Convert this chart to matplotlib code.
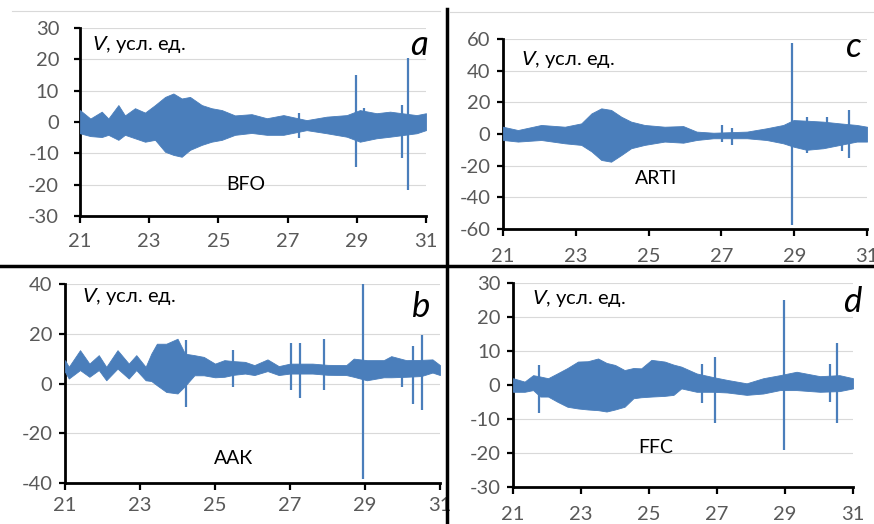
import numpy as np
import matplotlib
matplotlib.use("Agg")
import matplotlib.pyplot as plt
from matplotlib.lines import Line2D

plt.rcParams['font.family'] = ['Lato', 'DejaVu Sans']
plt.rcParams['axes.unicode_minus'] = False

blue = '#4a7ebb'
xticks = [21, 23, 25, 27, 29, 31]

# envelopes of the records (days, upper, lower)
a_t = [21.0, 21.3, 21.63, 21.82, 22.11, 22.3, 22.59, 22.88, 23.17, 23.46, 23.7, 23.94,
       24.18, 24.52, 24.8, 25.1, 25.48, 25.96, 26.4, 26.88, 27.55, 28.13, 28.71, 29.09,
       29.57, 29.96, 30.73, 31.0]
a_hi = [3.8, 1.1, 3.3, 1.1, 5.4, 2.1, 4.4, 3.0, 5.4, 8.0, 9.1, 7.5,
        8.0, 5.4, 4.4, 3.8, 2.1, 2.5, 1.2, 2.2, 0.6, 1.7, 2.2, 3.8,
        2.8, 3.3, 2.2, 2.8]
a_lo = [-3.6, -4.5, -4.8, -4.1, -5.7, -4.1, -5.2, -6.3, -5.7, -9.5, -10.5, -11.1,
        -8.9, -7.3, -6.3, -5.7, -4.1, -3.5, -4.1, -4.1, -2.6, -3.6, -4.7, -6.3,
        -5.2, -4.7, -3.6, -2.6]
a_spk_t = [27.33, 28.97, 29.2, 30.3, 30.47]
a_spk_lo = [-5.2, -14.3, -4.0, -11.6, -21.7]
a_spk_hi = [3.0, 15.0, 4.4, 5.4, 20.3]

b_t = [21.0, 21.1, 21.4, 21.65, 21.9, 22.1, 22.4, 22.7, 22.9, 23.15, 23.3, 23.45,
       23.7, 24.0, 24.2, 24.45, 24.7, 25.0, 25.25, 25.5, 25.8, 26.05, 26.4, 26.7,
       27.0, 27.3, 27.6, 28.0, 28.5, 28.7, 29.05, 29.5, 29.7, 30.1, 30.5, 30.8, 31.0]
b_hi = [9.4, 6.7, 13.4, 8.0, 11.4, 6.7, 13.4, 8.0, 11.4, 6.7, 12.0, 16.0,
        16.0, 18.0, 12.0, 11.4, 10.7, 8.0, 9.4, 9.0, 8.7, 7.4, 9.7, 7.0,
        8.0, 8.0, 8.0, 7.5, 7.4, 10.0, 9.4, 9.4, 11.0, 9.4, 9.5, 9.7, 7.4]
b_lo = [4.7, 2.0, 5.4, 2.7, 5.4, 1.3, 6.0, 2.0, 5.4, 1.3, 1.0, -0.7,
        -3.4, -4.0, -1.0, 3.3, 3.3, 2.5, 2.7, 3.5, 4.0, 3.4, 5.0, 3.4,
        4.0, 4.0, 4.0, 3.5, 3.4, 2.7, 1.3, 2.5, 2.5, 2.7, 3.0, 4.4, 3.4]
b_spk_t = [24.22, 25.48, 27.02, 27.28, 27.9, 28.95, 29.98, 30.27, 30.51]
b_spk_lo = [-9.4, -1.3, -2.7, -6.0, -2.7, -38.3, -1.6, -8.3, -10.5]
b_spk_hi = [17.5, 13.4, 16.2, 16.2, 17.7, 40.0, 8.0, 15.0, 19.5]

c_t = [21.0, 21.41, 22.05, 22.7, 23.15, 23.43, 23.7, 23.97, 24.25, 24.52, 24.89, 25.44,
       25.95, 26.32, 26.78, 27.7, 28.24, 28.7, 28.98, 29.34, 29.8, 30.26, 30.72, 31.0]
c_hi = [4.6, 2.5, 5.7, 4.6, 6.7, 13.0, 16.2, 15.2, 10.9, 7.8, 5.7, 4.6,
        5.0, 1.5, 0.8, 1.5, 3.6, 5.7, 8.8, 8.4, 7.8, 6.7, 5.7, 4.6]
c_lo = [-3.8, -4.8, -3.8, -5.9, -6.9, -11.0, -16.4, -17.5, -13.3, -9.0, -6.9, -4.8,
        -5.5, -3.8, -2.7, -2.7, -3.8, -5.9, -8.0, -10.0, -9.0, -6.9, -4.8, -4.8]
c_spk_t = [27.03, 27.3, 28.95, 29.34, 29.9, 30.3, 30.5]
c_spk_lo = [-4.8, -7.0, -57.5, -12.2, -6.0, -11.0, -15.0]
c_spk_hi = [5.7, 3.6, 57.3, 10.5, 10.9, 6.0, 15.2]

d_t = [21.0, 21.34, 21.59, 21.8, 22.03, 22.3, 22.6, 22.91, 23.2, 23.5, 23.75, 24.0,
       24.28, 24.54, 24.77, 25.07, 25.46, 25.72, 25.95, 26.4, 26.9, 27.3, 27.87, 28.36,
       28.85, 29.34, 30.03, 30.6, 31.0]
d_hi = [2.0, 1.0, 2.9, 2.5, 2.0, 3.4, 5.0, 6.9, 7.0, 7.8, 6.5, 5.9,
        4.4, 5.0, 4.9, 7.4, 6.9, 6.0, 5.4, 3.4, 2.3, 1.5, 0.5, 2.0,
        2.9, 3.9, 2.6, 2.9, 2.0]
d_lo = [-2.0, -2.0, -1.5, -3.4, -3.4, -4.9, -6.4, -6.9, -7.2, -7.4, -7.8, -7.2,
        -6.4, -3.9, -3.6, -3.4, -3.2, -2.9, -1.0, -2.0, -2.0, -2.2, -2.9, -2.5,
        -1.5, -1.5, -2.0, -1.8, -1.0]
d_spk_t = [21.75, 26.55, 26.94, 28.97, 30.32, 30.54]
d_spk_lo = [-8.3, -5.2, -11.3, -19.1, -4.9, -11.3]
d_spk_hi = [5.9, 6.2, 8.3, 25.0, 6.2, 12.5]

panels = [
    # rect, t, hi, lo, spikes, yticks, station, station pos, letter, letter pos, V pos, pads
    ([0.0915, 0.5878, 0.3959, 0.3588], a_t, a_hi, a_lo, (a_spk_t, a_spk_lo, a_spk_hi),
     [-30, -20, -10, 0, 10, 20, 30], 'BFO', (25.8, -20), 'a', (1.005, 0.91), (0.035, 0.91), 11, 7),
    ([0.0744, 0.0782, 0.4290, 0.3798], b_t, b_hi, b_lo, (b_spk_t, b_spk_lo, b_spk_hi),
     [-40, -20, 0, 20, 40], 'ААК', (25.5, -30), 'b', (0.973, 0.884), (0.045, 0.935), 5, 5),
    ([0.5755, 0.5630, 0.4165, 0.3626], c_t, c_hi, c_lo, (c_spk_t, c_spk_lo, c_spk_hi),
     [-60, -40, -20, 0, 20, 40, 60], 'ARTI', (25.2, -28), 'c', (0.986, 0.958), (0.05, 0.89), 5, 9),
    ([0.5870, 0.0706, 0.3890, 0.3893], d_t, d_hi, d_lo, (d_spk_t, d_spk_lo, d_spk_hi),
     [-30, -20, -10, 0, 10, 20, 30], 'FFC', (25.2, -18.5), 'd', (1.024, 0.907), (0.056, 0.926), 5, 9),
]

fig = plt.figure(figsize=(8.74, 5.24), dpi=100)

for rect, t, hi, lo, spk, yt, name, npos, letter, lpos, vpos, ypad, xpad in panels:
    ax = fig.add_axes(rect)
    ax.fill_between(t, lo, hi, color=blue, lw=0.6, edgecolor=blue, zorder=3)
    ax.vlines(spk[0], spk[1], spk[2], color=blue, lw=1.6, zorder=3)
    ax.set_xlim(21, 31)
    ax.set_ylim(yt[0], yt[-1])
    ax.set_xticks(xticks)
    ax.set_yticks(yt)
    for y in yt[1:]:
        ax.axhline(y, color='#d9d9d9', lw=0.8, zorder=1)
    for s in ['top', 'right']:
        ax.spines[s].set_visible(False)
    for s in ['left', 'bottom']:
        ax.spines[s].set_linewidth(2)
    ax.tick_params(axis='y', length=4, width=1.6, pad=ypad, labelsize=14.5, labelcolor='#595959')
    ax.tick_params(axis='x', length=5, width=1.6, pad=xpad, labelsize=14.5, labelcolor='#595959')
    ax.text(npos[0], npos[1], name, fontsize=14, ha='center', va='center', zorder=5)
    ax.text(lpos[0], lpos[1], letter, transform=ax.transAxes, fontsize=25,
            style='italic', ha='right', va='center', zorder=5)
    ax.text(vpos[0], vpos[1], r'$\mathit{V}$, усл. ед.', transform=ax.transAxes,
            fontsize=14.5, ha='left', va='center', zorder=5)

# divider lines between panels
fig.add_artist(Line2D([0, 1], [1 - 266 / 524, 1 - 266 / 524], color='black', lw=2.5,
                      transform=fig.transFigure))
fig.add_artist(Line2D([447 / 874, 447 / 874], [0, 1 - 9 / 524], color='black', lw=2.5,
                      transform=fig.transFigure))
fig.add_artist(Line2D([12 / 874, 440 / 874], [1 - 11 / 524, 1 - 11 / 524], color='#d9d9d9',
                      lw=0.8, transform=fig.transFigure))
fig.add_artist(Line2D([450 / 874, 874 / 874], [1 - 12 / 524, 1 - 12 / 524], color='#d9d9d9',
                      lw=0.8, transform=fig.transFigure))

fig.savefig('out.png', dpi=100)
